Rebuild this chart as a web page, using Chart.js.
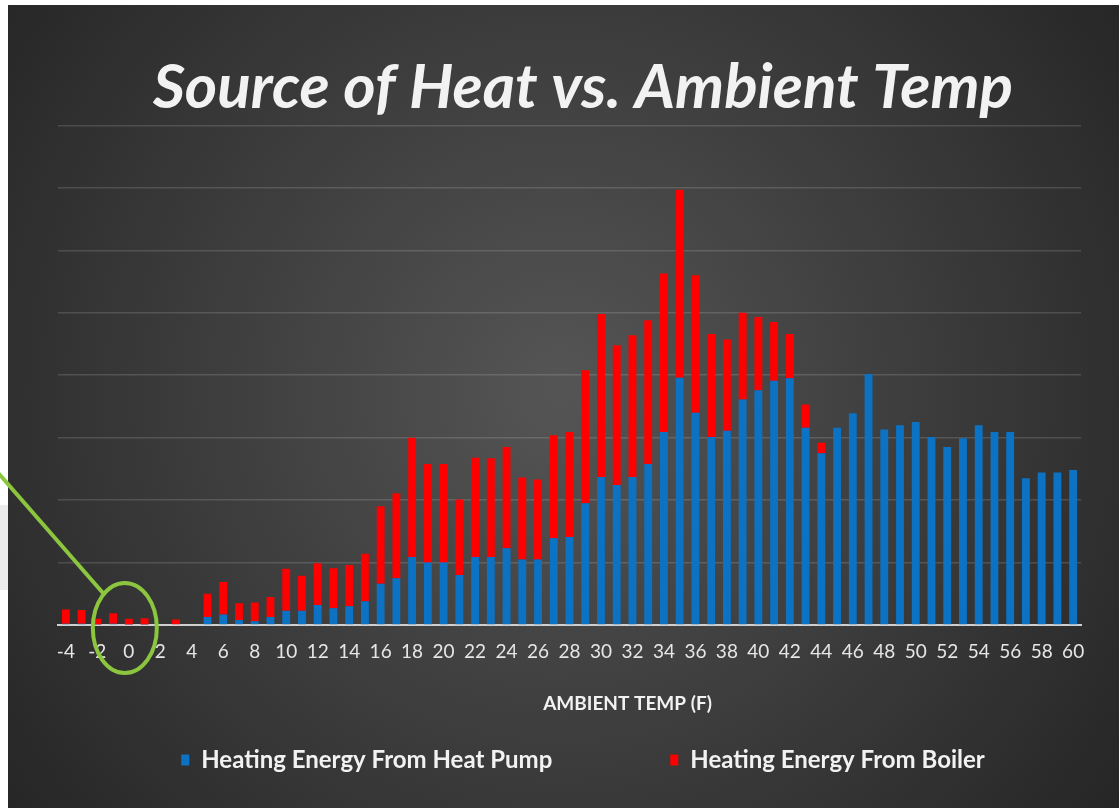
<!DOCTYPE html>
<html>
<head>
<meta charset="utf-8">
<title>Source of Heat vs. Ambient Temp</title>
<script src="https://cdn.jsdelivr.net/npm/chart.js@4.4.0/dist/chart.umd.min.js"></script>
<style>
  html, body { margin: 0; padding: 0; background: #fff; overflow: hidden; }
  #wrap { position: absolute; left: 0; top: 0; width: 1166px; height: 808px; }
</style>
</head>
<body>
<div id="wrap"><canvas id="heatChart"></canvas></div>
<script>
// ambient temperature buckets (F)
const temps = [-4, -3, -2, -1, 0, 1, 2, 3, 4, 5, 6, 7, 8, 9, 10, 11, 12, 13, 14, 15,
  16, 17, 18, 19, 20, 21, 22, 23, 24, 25, 26, 27, 28, 29, 30, 31, 32, 33, 34, 35,
  36, 37, 38, 39, 40, 41, 42, 43, 44, 45, 46, 47, 48, 49, 50, 51, 52, 53, 54, 55,
  56, 57, 58, 59, 60];

// heating energy, arbitrary units (no y labels on the original)
const heatPump = [2, 2, 1, 2, 1, 1, 0, 0, 0,
  13, 17, 8, 6, 13, 23, 23, 32, 27, 30, 38,
  66, 75, 109, 100, 100, 80, 109, 109, 123, 105, 105, 139, 141, 195,
  237, 224, 237, 258, 309, 396, 340, 301, 311, 361, 376, 391, 395, 316, 275,
  316, 339, 402, 313, 320, 325, 301, 285, 299, 320, 309, 309, 235, 244, 244, 248];

const boiler = [23, 22, 9, 17, 9, 10, 0, 9, 0,
  37, 52, 27, 30, 32, 67, 56, 67, 64, 66, 76,
  124, 136, 191, 158, 158, 121, 159, 158, 162, 131, 128, 165, 168, 213,
  261, 224, 227, 230, 254, 301, 220, 165, 146, 139, 117, 94, 71, 37, 17,
  0, 0, 0, 0, 0, 0, 0, 0, 0, 0, 0, 0, 0, 0, 0, 0];

const shownTicks = [-4, -2, 0, 2, 4, 6, 8, 10, 12, 14, 16, 18, 20, 22, 24, 26, 28, 30,
  32, 34, 36, 38, 40, 42, 44, 46, 48, 50, 52, 54, 56, 58, 60];

const seriesNames = ['Heating Energy From Heat Pump', 'Heating Energy From Boiler'];
const xTitle = 'AMBIENT TEMP (F)';

const FONT = 'Lato, "Open Sans", sans-serif';

const backdrop = {
  id: 'backdrop',
  beforeDraw(chart) {
    const { ctx, width, height } = chart;
    ctx.save();
    ctx.fillStyle = '#ffffff';
    ctx.fillRect(0, 0, width, height);
    ctx.fillStyle = '#ececec';
    ctx.fillRect(0, 505, 8, 85);
    const g = ctx.createRadialGradient(560, 390, 0, 560, 390, 720);
    g.addColorStop(0, '#555555');
    g.addColorStop(1, '#242424');
    ctx.fillStyle = g;
    ctx.fillRect(8, 5, width - 8, height - 5);
    ctx.restore();
  }
};

// x axis title sits right of centre in the original, plus the green callout
const extras = {
  id: 'extras',
  afterDraw(chart) {
    const { ctx, chartArea } = chart;
    const x = chart.scales.x, y = chart.scales.y;
    ctx.save();
    ctx.fillStyle = '#f2f2f2';
    ctx.font = 'bold 19px ' + FONT;
    ctx.textAlign = 'center';
    ctx.textBaseline = 'middle';
    ctx.fillText(xTitle, (chartArea.left + chartArea.right) / 2 + 58, 704);

    const cx = x.getPixelForValue(4) - 4;
    const cy = y.getPixelForValue(0) + 3;
    ctx.strokeStyle = '#8cc63f';
    ctx.lineWidth = 4;
    ctx.beginPath();
    ctx.ellipse(cx, cy, 32, 45, 0, 0, Math.PI * 2);
    ctx.stroke();
    ctx.beginPath();
    ctx.moveTo(cx - 130, cy - 159);
    ctx.lineTo(cx - 21, cy - 34);
    ctx.stroke();
    ctx.restore();
  }
};

const ctx = document.getElementById('heatChart').getContext('2d');
const heatChart = new Chart(ctx, {
  type: 'bar',
  data: {
    labels: temps,
    datasets: [{
      label: seriesNames[0],
      data: heatPump,
      backgroundColor: '#0b72c4',
      barPercentage: 0.5,
      categoryPercentage: 1.0
    }, {
      label: seriesNames[1],
      data: boiler,
      backgroundColor: '#ff0000',
      barPercentage: 0.5,
      categoryPercentage: 1.0
    }]
  },
  options: {
    responsive: true,
    maintainAspectRatio: false,
    animation: false,
    layout: { padding: { left: 0, right: 0, top: 0, bottom: 26 } },
    plugins: {
      title: {
        display: true,
        text: 'Source of Heat vs. Ambient Temp',
        color: '#f2f2f2',
        font: { family: FONT, size: 62, weight: 'bold', style: 'italic' },
        padding: { top: 51, bottom: 0 }
      },
      legend: {
        position: 'bottom',
        labels: {
          color: '#f2f2f2',
          font: { family: FONT, size: 24, weight: 'bold' },
          boxWidth: 8,
          boxHeight: 11,
          padding: 10,
          generateLabels(chart) {
            const items = Chart.defaults.plugins.legend.labels.generateLabels(chart);
            items[0].text = items[0].text + '\u2003'.repeat(6);
            items.forEach(it => { it.lineWidth = 0; });
            return items;
          }
        }
      },
      tooltip: { enabled: false }
    },
    scales: {
      x: {
        stacked: true,
        grid: { display: false, drawTicks: false },
        border: { display: true, color: '#cfcfcf', width: 2 },
        ticks: {
          color: '#e6e6e6',
          font: { family: FONT, size: 19 },
          padding: 15,
          autoSkip: false,
          maxRotation: 0,
          callback: (v, i) => shownTicks.includes(temps[i]) ? String(temps[i]) : ''
        },
        afterFit: s => { s.height = 113; }
      },
      y: {
        stacked: true,
        min: 0,
        max: 800,
        ticks: { display: false, stepSize: 100 },
        border: { display: false },
        grid: {
          drawTicks: false,
          color: c => c.tick.value === 0 ? 'rgba(0,0,0,0)' : 'rgba(255,255,255,0.14)',
          lineWidth: 1.5
        },
        afterFit: s => { s.width = 58; }
      },
      yPad: {
        position: 'right',
        display: true,
        grid: { display: false },
        border: { display: false },
        ticks: { display: false },
        afterFit: s => { s.width = 85; }
      }
    }
  },
  plugins: [backdrop, extras]
});
</script>
</body>
</html>
